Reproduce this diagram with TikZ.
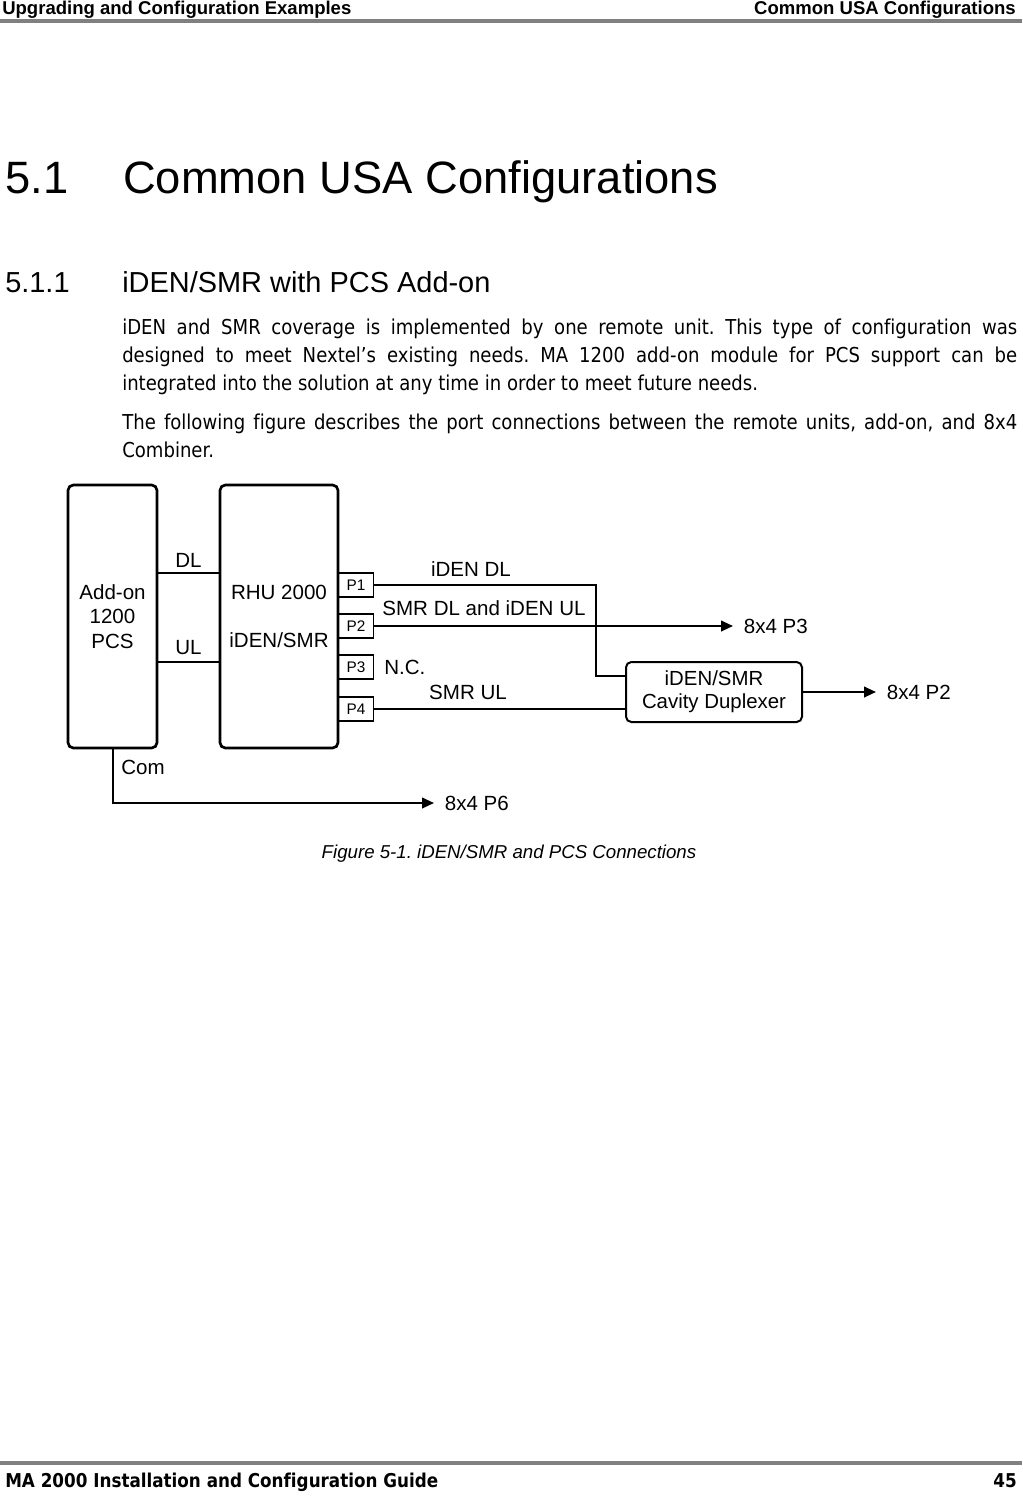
\documentclass[tikz,border=0pt]{standalone}
\usepackage{fontspec}
\setmainfont{Liberation Sans}
\newfontfamily\bodyfont[FakeStretch=0.88, Ligatures=NoCommon]{DejaVu Sans}
\frenchspacing
\usetikzlibrary{arrows.meta, positioning, calc}

\begin{document}
\begin{tikzpicture}[x=0.75pt, y=-0.75pt,
  unit/.style={draw, line width=2pt, rounded corners=4pt, align=center, font=\fontsize{15.4}{18.4}\selectfont},
  port/.style={draw, line width=1.3pt, minimum width=26.25pt, minimum height=18pt, inner sep=0pt, font=\fontsize{11.5}{13}\selectfont},
  wire/.style={line width=1.5pt},
  feed/.style={wire, -{Triangle[length=9pt, width=8pt]}},
  lbl/.style={font=\fontsize{15.4}{18}\selectfont, inner sep=0pt},
  combiner/.style={lbl, anchor=west, inner xsep=8pt},
  bodytext/.style={font=\bodyfont\fontsize{15.4}{21}\selectfont, text width=671.25pt, align=justify, anchor=north west, inner sep=0pt}
]
% Page rules and running text

\definecolor{rulegray}{RGB}{128,128,128}

\useasboundingbox (0,0) rectangle (1022,1496);

% Running head
\node[font=\bfseries\fontsize{13.9}{16}\selectfont, anchor=base west, inner sep=0pt] (headl) at (2,14) {Upgrading and Configuration Examples};
\node[font=\bfseries\fontsize{13.9}{16}\selectfont, anchor=base east, inner sep=0pt] (headr) at (1016,14) {Common USA Configurations};
\fill[rulegray] (0,19) rectangle (1022,23);

% Headings
\node[font=\fontsize{34}{40}\selectfont, anchor=base west, inner sep=0pt] (secnum) at (5,193) {5.1};
\node[font=\fontsize{34}{40}\selectfont, anchor=base west, inner sep=0pt] (sectitle) at (123,193) {Common USA Configurations};
\node[font=\fontsize{21.7}{26}\selectfont, anchor=base west, inner sep=0pt] (subnum) at (5,292) {5.1.1};
\node[font=\fontsize{21.7}{26}\selectfont, anchor=base west, inner sep=0pt] (subtitle) at (122,292) {iDEN/SMR with PCS Add-on};

% Body text
\node[bodytext] (para1) at (122,318.5) {iDEN and SMR coverage is implemented by one remote unit. This type of configuration was\linebreak designed to meet Nextel’s existing needs. MA 1200 add-on module for PCS support can be\linebreak integrated into the solution at any time in order to meet future needs.};
\node[bodytext] (para2) at (122,413.5) {The following figure describes the port connections between the remote units, add-on, and 8x4\linebreak Combiner.};

% Units
\node[unit, minimum width=66.75pt, minimum height=197.25pt] (addon) at (112.5,616.5) {Add-on\\1200\\PCS};
\node[unit, minimum width=88.5pt, minimum height=197.25pt] (rhu) at (279,616.5) {RHU 2000\\[17.6pt]iDEN/SMR};
\node[unit, line width=1.5pt, minimum width=132pt, minimum height=45pt, font=\fontsize{15.3}{17.2}\selectfont] (dup) at (714,692) {iDEN/SMR\\Cavity Duplexer};

% Ports
\foreach \n/\y in {1/585, 2/626, 3/667, 4/709}
  \node[port] (p\n) at (356,\y) {P\n};

% Add-on to RHU
\coordinate (dlrow) at (190,573);
\coordinate (ulrow) at (190,661.5);
\draw[wire] (dlrow -| addon.east) -- (dlrow -| rhu.west) node[lbl, midway, above=3.5pt] (dl) {DL};
\draw[wire] (ulrow -| addon.east) -- (ulrow -| rhu.west) node[lbl, midway, above=4pt] (ul) {UL};

% RHU ports
\coordinate (tap) at (596,676);
\draw[wire] (p1.east) -| (tap) -- (tap -| dup.west);
\node[lbl] (idendl) at (471,569) {iDEN DL};

\node[combiner] (c3) at (733,626) {8x4 P3};
\draw[feed] (p2.east) -- (c3.west);
\node[lbl] (smrdl) at (484,608) {SMR DL and iDEN UL};

\node[lbl, anchor=west] (nc) at (384,667) {N.C.};

\draw[wire] (p4.east) -- (p4.east -| dup.west);
\node[lbl] (smrul) at (468,692) {SMR UL};

% Duplexer output
\node[combiner] (c2) at (876,692) {8x4 P2};
\draw[feed] (dup.east) -- (c2.west);

% Common port
\node[combiner] (c6) at (434,803) {8x4 P6};
\draw[feed] (addon.south) |- (c6.west);
\node[lbl, anchor=west] (com) at (121,767) {Com};

% Caption
\node[font=\itshape\fontsize{14}{16}\selectfont, inner sep=0pt] (caption) at (509,854) {Figure 5-1. iDEN/SMR and PCS Connections};

% Running foot
\fill[rulegray] (0,1461) rectangle (1022,1465);
\node[font=\bodyfont\bfseries\fontsize{14.3}{16}\selectfont, anchor=base west, inner sep=0pt] (footl) at (5,1487) {MA 2000 Installation and Configuration Guide};
\node[font=\bodyfont\bfseries\fontsize{14.3}{16}\selectfont, anchor=base east, inner sep=0pt] (footr) at (1017,1487) {45};

\end{tikzpicture}
\end{document}
